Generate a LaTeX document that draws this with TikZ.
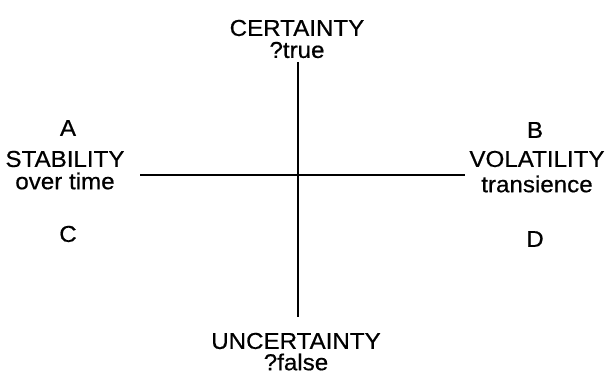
\documentclass[tikz,border=0pt]{standalone}
\usepackage{fontspec}
\setmainfont{Liberation Sans}[FakeBold=0.6]
\begin{document}
\begin{tikzpicture}[x=1pt,y=-1pt,
  lab/.style={font=\fontsize{23}{25}\selectfont, inner sep=0pt, align=center, xscale=1.05},
  axis/.style={line width=1.4pt, black}]
\useasboundingbox (0,0) rectangle (608,382);
\coordinate (top) at (298,62);
\coordinate (bot) at (298,317);
\coordinate (lft) at (140,175);
\coordinate (rgt) at (465,175);
\draw[axis] (top) -- (bot);
\draw[axis] (lft) -- (rgt);
\node[lab] (cert) at (297,28) {CERTAINTY};
\node[lab] (tru) at (297,50) {?true};
\node[lab] (A) at (68,128) {A};
\node[lab] (B) at (535,130) {B};
\node[lab] (stab) at (65,159) {STABILITY};
\node[lab] (over) at (65,181) {over time};
\node[lab] (vol) at (537,159) {VOLATILITY};
\node[lab] (tran) at (537,184) {transience};
\node[lab] (C) at (68,234) {C};
\node[lab] (D) at (535,239) {D};
\node[lab] (unc) at (296,341) {UNCERTAINTY};
\node[lab] (fal) at (296,362) {?false};
\end{tikzpicture}
\end{document}
